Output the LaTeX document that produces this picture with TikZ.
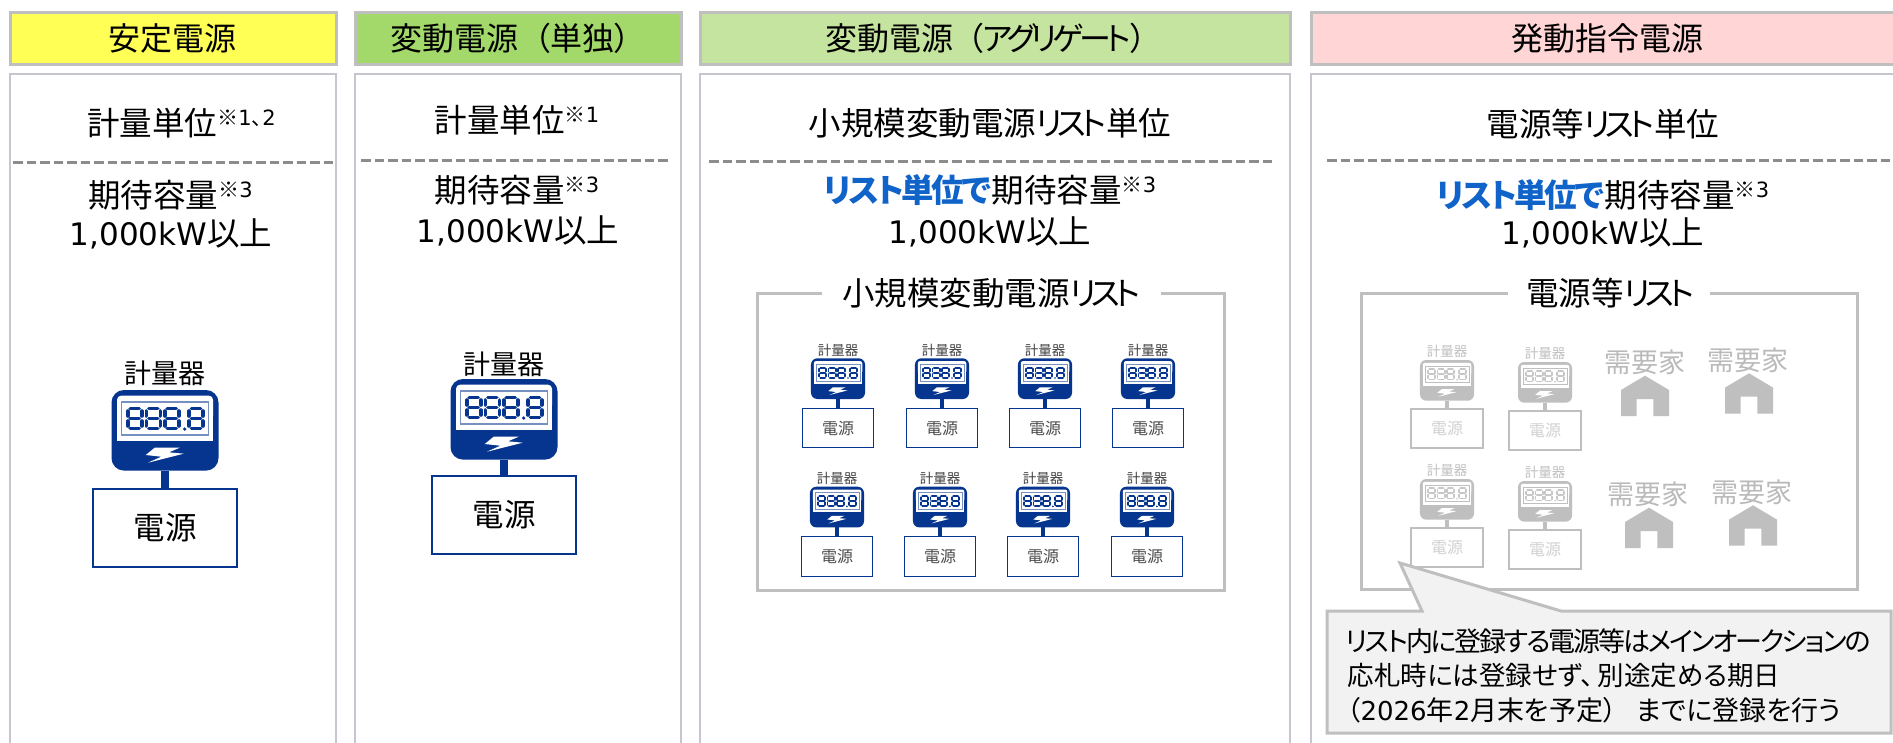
\documentclass[tikz,border=0pt]{standalone}
\usepackage{fontspec}
\setmainfont[RawFeature={+palt}]{Noto Sans CJK JP}
\newfontfamily\lat{DejaVu Sans}
\definecolor{hdA}{HTML}{FFFF55}
\definecolor{hdB}{HTML}{A2D96A}
\definecolor{hdC}{HTML}{C5E4A0}
\definecolor{hdD}{HTML}{FFD5D5}
\definecolor{edge}{HTML}{BFBFBF}
\definecolor{panelc}{HTML}{C9C5CE}
\definecolor{dashc}{HTML}{8C8C8C}
\definecolor{mblue}{HTML}{06358F}
\definecolor{tblue}{HTML}{1063C8}
\definecolor{calf}{HTML}{F2F2F2}
\newcounter{tc}
\tikzset{
  x=1pt,y=-1pt,
  headbar/.style={draw=edge,line width=3pt},
  panel/.style={draw=panelc,line width=2pt,fill=white},
  sep/.style={draw=dashc,line width=3pt,dash pattern=on 9.5pt off 4pt},
  listframe/.style={draw=edge,line width=3pt,line join=miter},
  srcbig/.style={draw=mblue,line width=2.6pt,fill=white,minimum width=144pt,minimum height=78pt,inner sep=0,outer sep=0,font=\fontsize{31.5}{31.5}\selectfont},
  srcsmall/.style={draw=mblue,line width=1.3pt,fill=white,minimum width=71pt,minimum height=39.5pt,inner sep=0,outer sep=0,text=black!70,font=\fontsize{16}{16}\selectfont},
  srcgray/.style={draw=edge,line width=1.3pt,fill=white,minimum width=72pt,minimum height=39pt,inner sep=0,outer sep=0,text=black!18,font=\fontsize{16}{16}\selectfont},
  callout/.style={draw=edge,line width=3pt,fill=calf,line join=miter},
}
% text: x, y-centre, size, content
\newcommand\txt[5][black]{\stepcounter{tc}\node[inner sep=0,anchor=base,text=#1,font=\fontsize{#4}{#4}\selectfont] (t\thetc) at (#2,{#3+0.38*#4}) {#5};}
\newcommand\ssc[1]{\raisebox{10pt}{\fontsize{21}{21}\selectfont #1}}
\newcommand\kn[2]{{\addfontfeature{LetterSpace=#1}#2}}
\newcommand\kw{{\lat\fontsize{31}{31}\selectfont 1,000kW}以上}
% meter body: id cx top scale bodycolour digitcolour framecolour
\newcommand\meterface[7]{%
  \pgfmathsetmacro\mw{107*#4}\pgfmathsetmacro\mh{80.6*#4}\pgfmathsetmacro\mr{12.5*#4}%
  \pgfmathsetmacro\lw{3.6*#4}\pgfmathsetmacro\fw{1.4*#4}\pgfmathsetmacro\wr{4*#4}%
  \node[fill=#5,rounded corners=\mr pt,minimum width=\mw pt,minimum height=\mh pt,inner sep=0,outer sep=0,anchor=north] (m#1) at (#2,#3) {};
  \begin{scope}[shift={(#2,#3)},scale=#4]
    \fill[white,rounded corners=\wr pt] (-48,5.7) -- (48,5.7) -- (48,30) -- (-48,30) -- cycle;
    \fill[white] (-48,15) rectangle (48,51);
    \draw[draw=#7,line width=\fw pt,fill=white] (-43.7,12) rectangle (43.7,45);
    \foreach \c in {-30.3,-11.7,6.7,31}{
      \draw[#6,line width=\lw pt,line cap=round]
        (\c-4.5,18.5) -- (\c+4.5,18.5) (\c-4.5,28.5) -- (\c+4.5,28.5) (\c-4.5,38.5) -- (\c+4.5,38.5)
        (\c-7,21) -- (\c-7,26) (\c+7,21) -- (\c+7,26) (\c-7,31) -- (\c-7,36) (\c+7,31) -- (\c+7,36);
    }
    \fill[#6] (19.7,39) circle (1.8);
    \fill[white] (-10.3,57.7) -- (14.7,57.7) -- (4,62.3) -- (18.7,63.7) -- (-17,72.7) -- (-3.7,66.7) -- (-19.3,65) -- cycle;
  \end{scope}
}
% small blue unit: id cx labely top boxtop
\newcommand\unitS[5]{%
  \txt[black!75]{#2}{#3}{13.5}{計量器}
  \meterface{#1}{#2}{#4}{0.505}{mblue}{mblue}{mblue!55}
  \node[srcsmall,anchor=north] (p#1) at (#2,#5) {電源};
  \draw[mblue,line width=4pt] (m#1.south) -- (p#1.north);
}
\newcommand\unitG[5]{%
  \txt[black!25]{#2}{#3}{13.5}{計量器}
  \meterface{#1}{#2}{#4}{0.505}{edge}{black!22}{edge}
  \node[srcgray,anchor=north] (p#1) at (#2,#5) {電源};
  \draw[edge,line width=4pt] (m#1.south) -- (p#1.north);
}
% demand: id labelx labely apexx apexy
\newcommand\demand[5]{%
  \txt[black!27]{#2}{#3}{27}{需要家}
  \fill[edge] (#4,#5) -- ++(24,14.3) -- ++(0,26) -- ++(-15.7,0) -- ++(0,-17) -- ++(-16.6,0) -- ++(0,17) -- ++(-15.7,0) -- ++(0,-26) -- cycle;
}
\begin{document}
\begin{tikzpicture}
\useasboundingbox (0,0) rectangle (1893,742);
\clip (0,0) rectangle (1893,742);
\fill[white] (0,0) rectangle (1893,742);
% headers
\draw[headbar,fill=hdA] (10,12) rectangle (336,64);
\draw[headbar,fill=hdB] (355,12) rectangle (681,64);
\draw[headbar,fill=hdC] (700,12) rectangle (1290,64);
\draw[headbar,fill=hdD] (1311,12) rectangle (1900,64);
\txt{172}{38}{32}{安定電源}
\txt{510.5}{38}{32}{変動電源\hspace{16pt}（単独）}
\txt{986.5}{38}{32}{変動電源\hspace{13pt}（\kn{-14}{アグリゲート}）}
\txt{1607}{38}{32}{発動指令電源}
% panels
\draw[panel] (10,74) rectangle (336,760);
\draw[panel] (355,74) rectangle (681,760);
\draw[panel] (700,74) rectangle (1290,760);
\draw[panel] (1311,74) rectangle (1900,760);
% separators
\draw[sep] (13,162) -- (333,162);
\draw[sep] (361,160) -- (670,160);
\draw[sep] (709,161) -- (1275,161);
\draw[sep] (1327,160) -- (1893,160);
% panel A
\txt{181.5}{123}{32.5}{計量単位\ssc{※{\lat 1}、{\lat 2}}}
\txt{170.5}{195}{32.5}{期待容量\ssc{※{\lat 3}}}
\txt{171}{233}{32.5}{\kw}
% panel B
\txt{517}{120}{32.5}{計量単位\ssc{※{\lat 1}}}
\txt{517}{190}{32.5}{期待容量\ssc{※{\lat 3}}}
\txt{518}{230}{32.5}{\kw}
% panel C
\txt{990}{123}{32.5}{小規模変動電源\kn{-16}{リスト}単位}
\txt{990}{190}{32.5}{{\bfseries\color{tblue}\kn{-8}{リスト単位で}}\hspace{1pt}期待容量\ssc{※{\lat 3}}}
\txt{990}{231}{32.5}{\kw}
% panel D
\txt{1603}{124}{32.5}{電源等\kn{-16}{リスト}単位}
\txt{1603}{195}{32.5}{{\bfseries\color{tblue}\kn{-8}{リスト単位で}}\hspace{1pt}期待容量\ssc{※{\lat 3}}}
\txt{1603}{232}{32.5}{\kw}
% big meters
\txt{165}{373}{27}{計量器}
\meterface{A}{165}{390}{1}{mblue}{mblue}{mblue!55}
\node[srcbig,anchor=north] (pA) at (165,489) {電源};
\draw[mblue,line width=8pt] (mA.south) -- (pA.north);
\txt{504}{364}{27}{計量器}
\meterface{B}{504}{379}{1}{mblue}{mblue}{mblue!55}
\node[srcbig,anchor=north] (pB) at (504,476) {電源};
\draw[mblue,line width=8pt] (mB.south) -- (pB.north);
% small list frame
\draw[listframe] (822,293) -- (757,293) -- (757,590) -- (1224,590) -- (1224,293) -- (1161,293);
\txt{991}{293}{32.5}{小規模変動電源\kn{-16}{リスト}}
\unitS{a}{838}{350}{358.3}{408.3}
\unitS{b}{942}{350}{358.3}{408.3}
\unitS{c}{1045}{350}{358.3}{408.3}
\unitS{d}{1148}{350}{358.3}{408.3}
\unitS{e}{837}{478}{486.7}{536.7}
\unitS{f}{940}{478}{486.7}{536.7}
\unitS{g}{1043}{478}{486.7}{536.7}
\unitS{h}{1147}{478}{486.7}{536.7}
% resource list frame
\draw[listframe] (1508,293) -- (1361,293) -- (1361,589) -- (1857,589) -- (1857,293) -- (1710,293);
\txt{1610}{293}{32.5}{電源等\kn{-16}{リスト}}
\unitG{p}{1447}{351}{360}{409}
\unitG{q}{1545}{353}{362}{411}
\unitG{r}{1447}{470}{479}{528}
\unitG{s}{1545}{472}{481}{530}
\demand{u}{1644.5}{362}{1645}{375.7}
\demand{v}{1747.7}{360}{1749}{373.3}
\demand{w}{1648}{494}{1649}{507.7}
\demand{z}{1751.7}{492}{1753}{505.3}
% callout
\draw[callout] (1327,611) -- (1422,611) -- (1400,563) -- (1561,611) -- (1891,611) -- (1891,733) -- (1327,733) -- cycle;
\txt{1608}{641}{27}{\kn{-8}{リスト内に登録する電源等はメインオークションの}}
\txt{1564}{675}{26.5}{応札時には登録せず、\hspace{4pt}別途定める期日}
\txt{1594}{710}{27}{（{\lat\fontsize{26}{26}\selectfont 2026}年{\lat\fontsize{26}{26}\selectfont 2}月末を予定）\hspace{20pt}までに登録を行う}
\end{tikzpicture}
\end{document}
